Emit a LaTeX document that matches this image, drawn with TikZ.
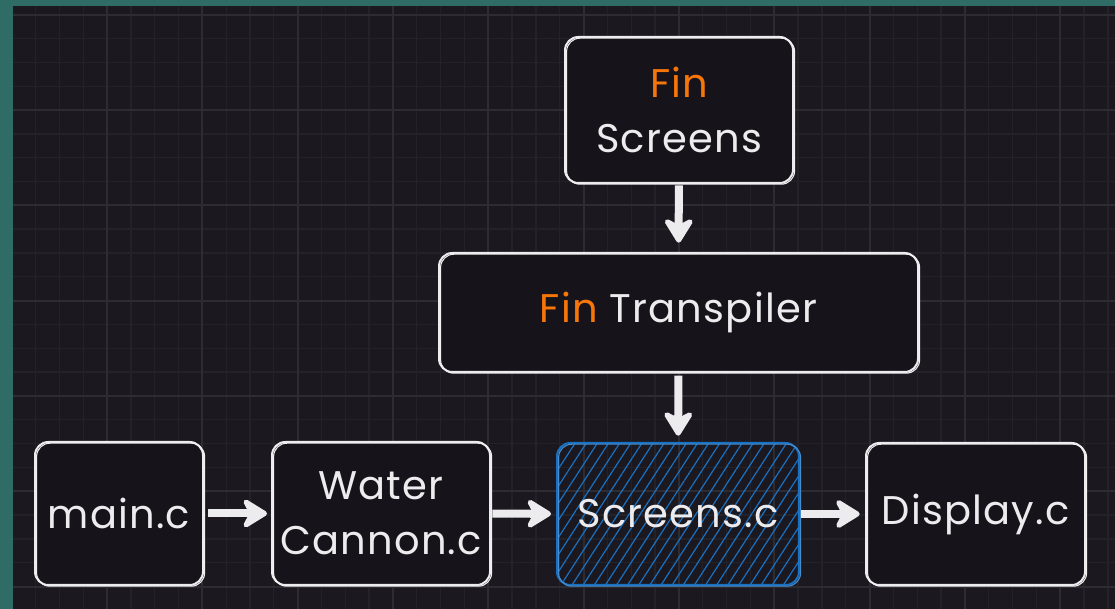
\documentclass[tikz,border=0pt]{standalone}
\usepackage{fontspec}
\setmainfont{Poppins}[LetterSpace=3.0]
\usetikzlibrary{arrows.meta,patterns.meta,positioning}
\definecolor{rand}{RGB}{48,108,102}
\definecolor{hintergrund}{RGB}{27,24,32}
\definecolor{gitter}{RGB}{36,34,41}
\definecolor{gitterfett}{RGB}{46,44,51}
\definecolor{kastenfill}{RGB}{22,19,26}
\definecolor{kreide}{RGB}{236,236,238}
\definecolor{finorange}{RGB}{247,118,10}
\definecolor{skizzenblau}{RGB}{25,113,194}
\newcommand{\pxl}{0.75pt}
\newcommand{\schrift}{\fontsize{30}{41}\selectfont}
\tikzstyle{pfeil} = [draw=kreide, line width=6pt, -{Stealth[round,length=22pt,width=27pt,inset=7pt]}]

\begin{document}
\begin{tikzpicture}[x=0.75pt, y=-0.75pt,
		kasten/.style 2 args={draw=kreide, fill=kastenfill, line width=1.5pt, rounded corners=10pt,
			minimum width=#1*\pxl, minimum height=#2*\pxl, align=center, text=kreide, font=\schrift,
			postaction={draw=kreide!75, line width=0.8pt, transform canvas={shift={(1.2pt,-0.9pt)}}}},
		schraffur/.style 2 args={draw=skizzenblau, line width=1.5pt, rounded corners=10pt,
			pattern={Lines[angle=57,distance=7pt,line width=0.9pt]}, pattern color=skizzenblau,
			minimum width=#1*\pxl, minimum height=#2*\pxl, align=center, text=kreide, font=\schrift,
			postaction={draw=skizzenblau!80, line width=0.8pt, transform canvas={shift={(1.2pt,-0.9pt)}}}}]
	% Hintergrund mit Rand
	\fill[rand] (0,0) rectangle (1115,609);
	\fill[hintergrund] (13,6) rectangle (1115,609);
	\useasboundingbox (0,0) rectangle (1115,609);
	% Gitter
	\begin{scope}
		\clip (13,6) rectangle (1115,609);
		\foreach \i in {0,...,46} \draw[gitter, line width=1pt] (11.7+23.83*\i,6) -- (11.7+23.83*\i,609);
		\foreach \i in {0,...,25} \draw[gitter, line width=1pt] (13,14.7+23.83*\i) -- (1115,14.7+23.83*\i);
		\foreach \i in {0,4,...,44} \draw[gitterfett, line width=1.4pt] (11.7+23.83*\i,6) -- (11.7+23.83*\i,609);
		\foreach \i in {0,4,...,24} \draw[gitterfett, line width=1.4pt] (13,14.7+23.83*\i) -- (1115,14.7+23.83*\i);
	\end{scope}
	% Kaesten
	\node[kasten={228}{146}] (finscr) at (679,110) {\textcolor{finorange}{Fin}\\Screens};
	\node[kasten={479}{119}] (transp) at (678.5,312.5) {\textcolor{finorange}{Fin} Transpiler};
	\node[kasten={168}{143}] (mainc) at (119,513.5) {main.c};
	\node[kasten={218}{143}] (water) at (381,513.5) {Water\\Cannon.c};
	\node[schraffur={242}{142}] (scrc) at (678,514) {Screens.c};
	\node[kasten={219}{142}] (disp) at (975.5,514) {Display.c};
	% Pfeile
	\draw[pfeil, shorten <=1pt, shorten >=7pt] (finscr) -- (transp);
	\draw[pfeil, shorten <=2pt, shorten >=5pt] (transp) -- (scrc);
	\draw[pfeil, shorten <=3pt, shorten >=3pt] (mainc) -- (water);
	\draw[pfeil, shorten <=1pt, shorten >=4pt] (water) -- (scrc);
	\draw[pfeil, shorten <=1pt, shorten >=4pt] (scrc) -- (disp);
\end{tikzpicture}
\end{document}
